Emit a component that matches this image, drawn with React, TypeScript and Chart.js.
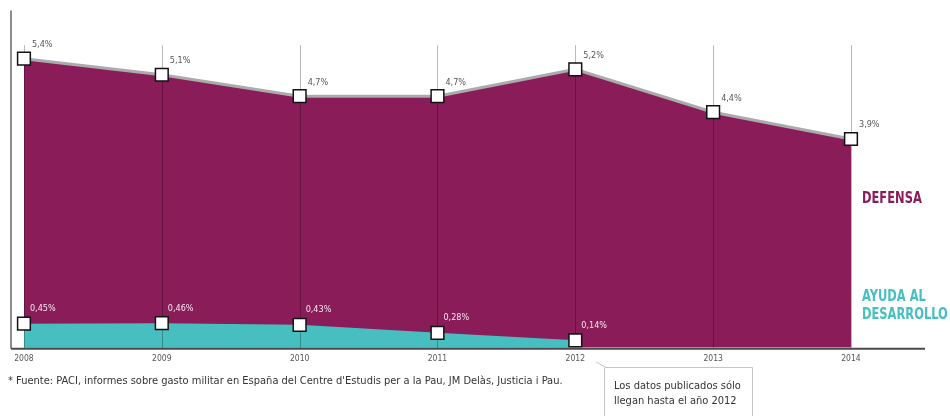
import React, { useEffect, useRef } from 'react';
import { Chart, registerables } from 'chart.js';

Chart.register(...registerables);

// ---- data ----
const years = [2008, 2009, 2010, 2011, 2012, 2013, 2014];
const defensa = [5.4, 5.1, 4.7, 4.7, 5.2, 4.4, 3.9];
const ayudaYears = [2008, 2009, 2010, 2011, 2012];
const ayuda = [0.45, 0.46, 0.43, 0.28, 0.14];

const defensaLabel = 'DEFENSA';
const ayudaLabel = ['AYUDA AL', 'DESARROLLO'];
const footnote =
  "* Fuente: PACI, informes sobre gasto militar en España del Centre d'Estudis per a la Pau, JM Delàs, Justicia i Pau.";
const calloutLines = ['Los datos publicados sólo', 'llegan hasta el año 2012'];

// ---- styles ----
const PURPLE = '#8a1c5a';
const TEAL = '#47bfc1';
const FONT = "'Liberation Sans Narrow', 'DejaVu Sans Condensed', 'Arial Narrow', sans-serif";
const GRID_TOP = 5.65;

const fmt = (v: number, d: number) => v.toFixed(d).replace('.', ',') + '%';

const decor = {
  id: 'decor',
  afterDatasetDraw(chart: any, args: any) {
    if (args.index !== 0) return;
    const { ctx, chartArea, scales } = chart;
    const top = scales.y.getPixelForValue(GRID_TOP);
    ctx.save();
    ctx.strokeStyle = 'rgba(0,0,0,0.28)';
    ctx.lineWidth = 1;
    years.forEach((yr) => {
      const px = Math.round(scales.x.getPixelForValue(yr)) + 0.5;
      ctx.beginPath();
      ctx.moveTo(px, top);
      ctx.lineTo(px, chartArea.bottom);
      ctx.stroke();
    });
    ctx.restore();
  },
  afterDatasetsDraw(chart: any) {
    const { ctx, chartArea } = chart;
    ctx.save();
    // axes lines
    ctx.strokeStyle = '#8c8c8c';
    ctx.lineWidth = 2;
    ctx.beginPath();
    ctx.moveTo(chartArea.left, chartArea.top);
    ctx.lineTo(chartArea.left, chartArea.bottom + 1);
    ctx.stroke();
    ctx.strokeStyle = '#4a4a4a';
    ctx.beginPath();
    ctx.moveTo(chartArea.left, chartArea.bottom + 1);
    ctx.lineTo(chartArea.right, chartArea.bottom + 1);
    ctx.stroke();

    // value labels
    ctx.font = `9px ${FONT}`;
    ctx.textAlign = 'left';
    ctx.textBaseline = 'middle';
    const dMeta = chart.getDatasetMeta(2);
    ctx.fillStyle = '#555';
    dMeta.data.forEach((el: any, i: number) => {
      ctx.fillText(fmt(defensa[i], 1), el.x + 8, el.y - 14);
    });
    const aMeta = chart.getDatasetMeta(3);
    ctx.fillStyle = '#f4e8ef';
    aMeta.data.forEach((el: any, i: number) => {
      ctx.fillText(fmt(ayuda[i], 2), el.x + 6, el.y - 15);
    });
    ctx.restore();
  },
};

export default function App() {
  const ref = useRef<HTMLCanvasElement>(null);

  useEffect(() => {
    if (!ref.current) return;
    const dPts = years.map((x, i) => ({ x, y: defensa[i] }));
    const aPts = ayudaYears.map((x, i) => ({ x, y: ayuda[i] }));
    const marker = {
      showLine: false,
      pointStyle: 'rect',
      pointRadius: 9,
      pointBackgroundColor: '#ffffff',
      pointBorderColor: '#111111',
      pointBorderWidth: 1.5,
    };
    const chart = new Chart(ref.current, {
      type: 'line',
      data: {
        datasets: [
          {
            label: 'ayuda-area',
            data: aPts,
            fill: 'origin',
            backgroundColor: TEAL,
            borderColor: TEAL,
            borderWidth: 0,
            pointRadius: 0,
            tension: 0,
            order: 2,
          },
          {
            label: 'defensa-area',
            data: dPts,
            fill: 'origin',
            backgroundColor: PURPLE,
            borderColor: '#ababab',
            borderWidth: 3,
            pointRadius: 0,
            tension: 0,
            order: 3,
          },
          { label: 'defensa', data: dPts, order: 1, ...marker } as any,
          { label: 'ayuda', data: aPts, order: 0, ...marker } as any,
        ],
      },
      options: {
        responsive: false,
        animation: false,
        events: [],
        layout: { padding: { left: 11, right: 25, top: 8, bottom: 46 } },
        plugins: { legend: { display: false }, tooltip: { enabled: false } },
        scales: {
          x: {
            type: 'linear',
            min: 2007.906,
            max: 2014.537,
            grid: { display: false, drawTicks: false },
            border: { display: false },
            afterBuildTicks: (axis: any) => {
              axis.ticks = years.map((v) => ({ value: v }));
            },
            ticks: {
              padding: 6,
              color: '#555',
              font: { family: FONT, size: 8.5 },
              callback: (v: any) => String(v),
              maxRotation: 0,
              autoSkip: false,
            },
          },
          y: { display: false, min: 0, max: 6.3 },
        },
      } as any,
      plugins: [decor],
    });
    return () => chart.destroy();
  }, []);

  const squeeze = {
    transform: 'scaleX(0.85)',
    transformOrigin: 'left center',
    whiteSpace: 'nowrap' as const,
  };

  return (
    <div
      style={{
        position: 'absolute',
        left: 0,
        top: 0,
        width: 950,
        height: 416,
        overflow: 'hidden',
        background: '#fff',
        fontFamily: FONT,
      }}
    >
      <canvas ref={ref} width={950} height={416} style={{ display: 'block' }} />
      <div
        style={{
          position: 'absolute',
          left: 862,
          top: 189,
          color: PURPLE,
          fontWeight: 'bold',
          fontSize: 15,
          lineHeight: '18px',
          ...squeeze,
        }}
      >
        {defensaLabel}
      </div>
      <div
        style={{
          position: 'absolute',
          left: 862,
          top: 287,
          color: TEAL,
          fontWeight: 'bold',
          fontSize: 15,
          lineHeight: '18px',
          ...squeeze,
        }}
      >
        {ayudaLabel.map((t) => (
          <div key={t}>{t}</div>
        ))}
      </div>
      <div
        style={{
          position: 'absolute',
          left: 8,
          top: 374,
          color: '#333',
          fontSize: 11,
          whiteSpace: 'nowrap',
        }}
      >
        {footnote}
      </div>
      <svg
        width={950}
        height={416}
        style={{ position: 'absolute', left: 0, top: 0, pointerEvents: 'none' }}
      >
        <polyline
          points="596,362 606,367.5 752.5,367.5 752.5,420"
          fill="none"
          stroke="#c4c4c4"
          strokeWidth={1}
        />
        <line x1={604.5} y1={367.5} x2={604.5} y2={420} stroke="#c4c4c4" strokeWidth={1} />
      </svg>
      <div
        style={{
          position: 'absolute',
          left: 614,
          top: 378,
          color: '#333',
          fontSize: 11,
          lineHeight: '15px',
          whiteSpace: 'nowrap',
        }}
      >
        {calloutLines.map((t) => (
          <div key={t}>{t}</div>
        ))}
      </div>
    </div>
  );
}
